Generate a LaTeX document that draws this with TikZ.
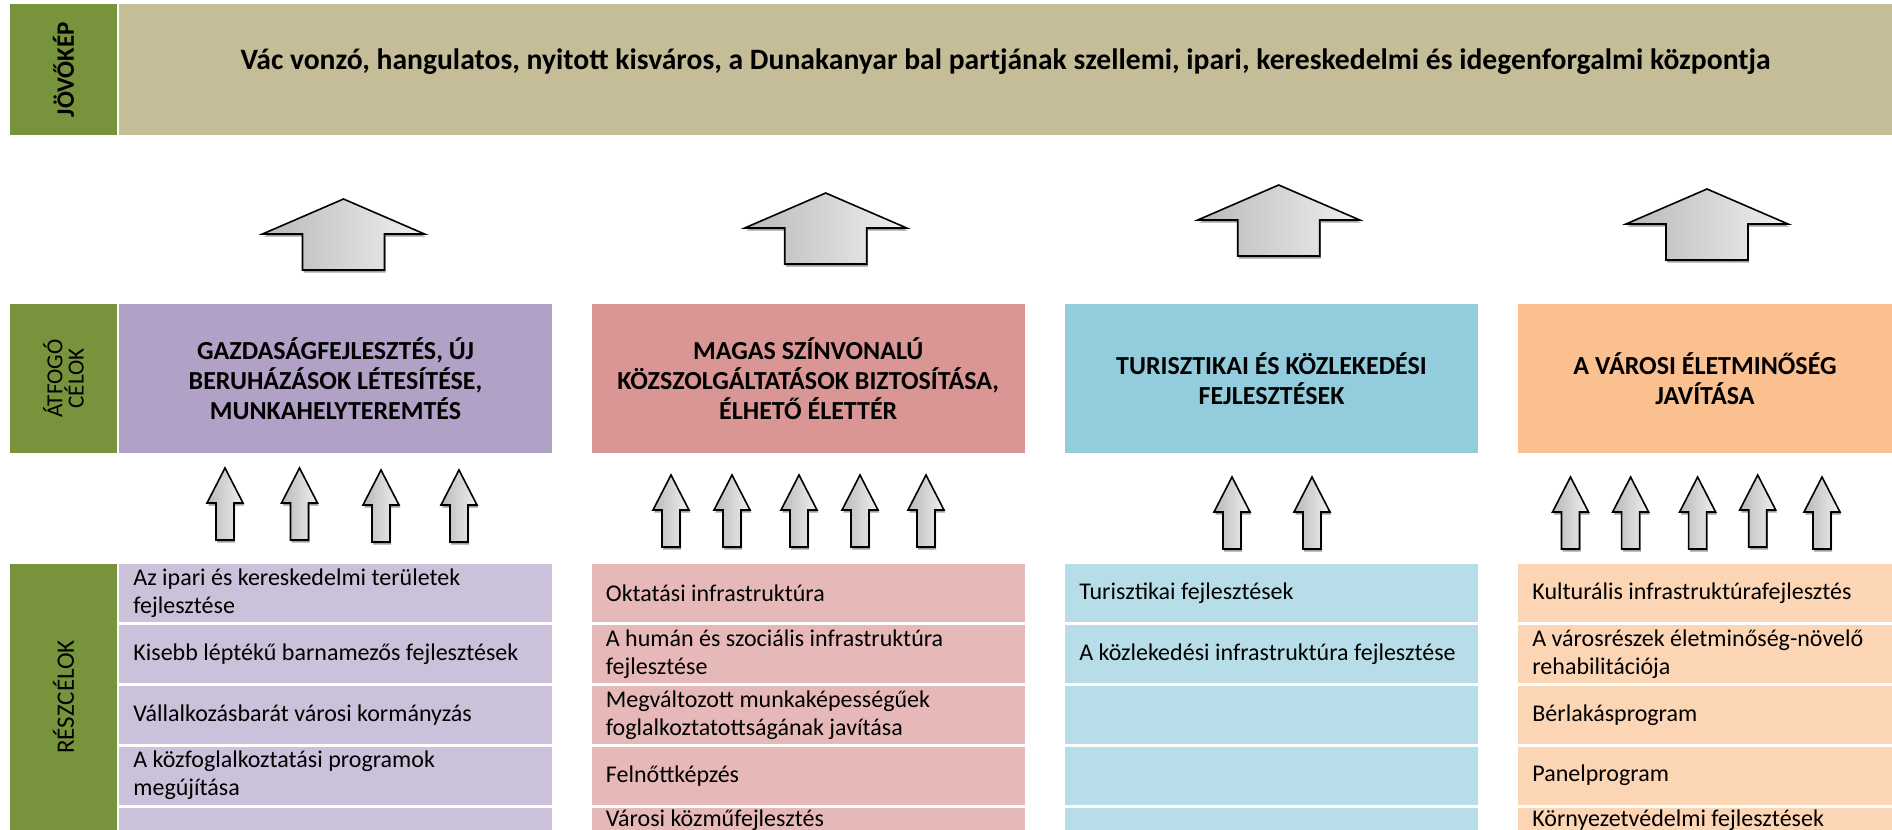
\documentclass[tikz,border=0pt]{standalone}
\usepackage{fontspec}
\setmainfont{Carlito}
\usepackage{tikz}
\usetikzlibrary{positioning,shadows}
\definecolor{celzold}{HTML}{77933C}
\definecolor{jovokepszin}{HTML}{C4BD97}
\definecolor{lilafej}{HTML}{B2A1C7}
\definecolor{lilasor}{HTML}{CCC1DA}
\definecolor{rozsafej}{HTML}{D99694}
\definecolor{rozsasor}{HTML}{E6B9B8}
\definecolor{kekfej}{HTML}{93CDDD}
\definecolor{keksor}{HTML}{B7DEE8}
\definecolor{narancsfej}{HTML}{FAC090}
\definecolor{narancssor}{HTML}{FCD5B5}
% felfele mutato blokknyil: x, csucs y, fej fel-szelesseg, szar fel-szelesseg, fej magassag, hossz
\newcommand{\felnyil}[6]{\filldraw[nyil] (#1,#2) -- ++(#3,#5) -- ++(#4-#3,0) -- ++(0,#6-#5) -- ++(-2*#4,0) -- ++(0,#5-#6) -- ++(#4-#3,0) -- cycle;}

\begin{document}
\begin{tikzpicture}[x=0.5pt,y=-0.5pt,
			every node/.style={inner sep=0pt, font=\fontsize{12}{14}\selectfont},
			cimke/.style={fill=celzold, rotate=90, align=flush center, minimum height=53.5pt},
			fejlec/.style={minimum height=74.5pt, align=flush center, font=\bfseries\fontsize{13}{15}\selectfont},
			sor/.style={minimum height=28.85pt, inner xsep=7pt, align=flush left},
			lila/.style={sor, fill=lilasor, text width=202.5pt},
			rozsa/.style={sor, fill=rozsasor, text width=202.75pt},
			kek/.style={sor, fill=keksor, text width=192.5pt},
			narancs/.style={sor, fill=narancssor, text width=173pt},
			utolso/.style={minimum height=13pt}, % a levagott also sor
			nyil/.style={draw=black, line width=0.8pt, left color=gray!55, right color=gray!12,
					drop shadow={shadow xshift=0.6pt, shadow yshift=-1.3pt, fill=gray!75, opacity=1}}
		]
		\useasboundingbox (0,0) rectangle (1892,830);

		\node[cimke, minimum width=65.5pt, font=\bfseries\fontsize{12.5}{14}\selectfont] (jovokep) at (63.5,69.5) {JÖVŐKÉP};
		\node[fill=jovokepszin, minimum width=886.5pt, minimum height=65.5pt, text height=8pt, text depth=8pt,
			font=\bfseries\fontsize{14.8}{17}\selectfont] (jovo) at (1005.5,69.5)
			{Vác vonzó, hangulatos, nyitott kisváros, a Dunakanyar bal partjának szellemi, ipari, kereskedelmi és idegenforgalmi központja};

		\node[cimke, minimum width=74.5pt, font=\fontsize{11.5}{9.5}\selectfont] (atfogo) at (63.5,378.5) {ÁTFOGÓ\\CÉLOK};
		\node[fejlec, fill=lilafej, minimum width=216.5pt] (gazd) at (335.5,378.5) {GAZDASÁGFEJLESZTÉS, ÚJ\\BERUHÁZÁSOK LÉTESÍTÉSE,\\MUNKAHELYTEREMTÉS};
		\node[fejlec, fill=rozsafej, minimum width=216.75pt] (kozszolg) at (808.25,378.5) {MAGAS SZÍNVONALÚ\\KÖZSZOLGÁLTATÁSOK BIZTOSÍTÁSA,\\ÉLHETŐ ÉLETTÉR};
		\node[fejlec, fill=kekfej, minimum width=206.5pt] (turiz) at (1271.5,378.5) {TURISZTIKAI ÉS KÖZLEKEDÉSI\\FEJLESZTÉSEK};
		\node[fejlec, fill=narancsfej, minimum width=187pt] (eletmin) at (1705,378.5) {A VÁROSI ÉLETMINŐSÉG\\JAVÍTÁSA};

		\node[cimke, minimum width=133pt, font=\fontsize{12.5}{14}\selectfont] (reszcel) at (63.5,697) {RÉSZCÉLOK};

		\node[lila, anchor=north west] (lila1) at (119,564) {Az ipari és kereskedelmi területek\\fejlesztése};
		\node[lila, below=1.15pt of lila1] (lila2) {Kisebb léptékű barnamezős fejlesztések};
		\node[lila, below=1.15pt of lila2] (lila3) {Vállalkozásbarát városi kormányzás};
		\node[lila, below=1.15pt of lila3] (lila4) {A közfoglalkoztatási programok\\megújítása};
		\node[lila, utolso, below=1.15pt of lila4] (lila5) {};

		\node[rozsa, anchor=north west] (rozsa1) at (591.5,564) {Oktatási infrastruktúra};
		\node[rozsa, below=1.15pt of rozsa1] (rozsa2) {A humán és szociális infrastruktúra\\fejlesztése};
		\node[rozsa, below=1.15pt of rozsa2] (rozsa3) {Megváltozott munkaképességűek\\foglalkoztatottságának javítása};
		\node[rozsa, below=1.15pt of rozsa3] (rozsa4) {Felnőttképzés};
		\node[rozsa, utolso, below=1.15pt of rozsa4] (rozsa5) {Városi közműfejlesztés};

		\node[kek, anchor=north west] (kek1) at (1065,564) {Turisztikai fejlesztések};
		\node[kek, below=1.15pt of kek1] (kek2) {A közlekedési infrastruktúra fejlesztése};
		\node[kek, below=1.15pt of kek2] (kek3) {};
		\node[kek, below=1.15pt of kek3] (kek4) {};
		\node[kek, utolso, below=1.15pt of kek4] (kek5) {};

		\node[narancs, anchor=north west] (narancs1) at (1518,564) {Kulturális infrastruktúrafejlesztés};
		\node[narancs, below=1.15pt of narancs1] (narancs2) {A városrészek életminőség-növelő\\rehabilitációja};
		\node[narancs, below=1.15pt of narancs2] (narancs3) {Bérlakásprogram};
		\node[narancs, below=1.15pt of narancs3] (narancs4) {Panelprogram};
		\node[narancs, utolso, below=1.15pt of narancs4] (narancs5) {Környezetvédelmi fejlesztések};

		\foreach \px/\py in {343.5/199, 825.7/193, 1278.7/185, 1707/189}
			{\felnyil{\px}{\py}{81}{41}{35}{71}}
		\foreach \px/\py in {225/468, 299.5/468, 381/470, 459/470,
				671/475, 732/475, 799/475, 860/475, 926/475,
				1232/477, 1312/477,
				1570.5/477, 1630.6/477, 1697.6/477, 1757.7/475, 1822/477}
			{\felnyil{\px}{\py}{18}{9}{35}{72}}
	\end{tikzpicture}
\end{document}
